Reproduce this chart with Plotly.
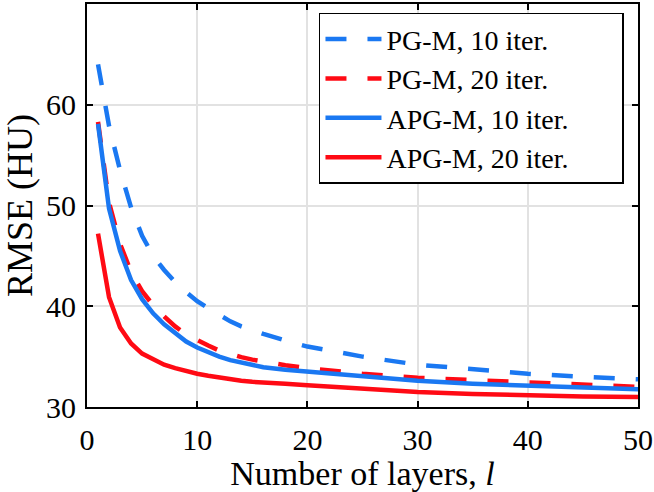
import plotly.graph_objects as go

layers = [1, 2, 3, 4, 5, 6, 7, 8, 9, 10, 11, 12, 13, 14, 15, 16, 18, 20, 22, 25, 30, 35, 40, 45, 50]

pgm_10 = [64.0, 57.9, 53.5, 49.8, 47.0, 45.0, 43.6, 42.4, 41.4, 40.5, 39.8, 39.1, 38.5, 38.0, 37.6, 37.25,
          36.6, 36.0, 35.6, 35.0, 34.2, 33.7, 33.3, 33.0, 32.75]
pgm_20 = [58.3, 50.3, 46.2, 43.4, 41.5, 40.1, 39.0, 38.0, 37.2, 36.6, 36.1, 35.6, 35.25, 34.95, 34.7, 34.5,
          34.15, 33.85, 33.6, 33.3, 32.9, 32.65, 32.4, 32.2, 32.0]
apgm_10 = [58.1, 49.7, 45.5, 42.6, 40.7, 39.3, 38.2, 37.3, 36.5, 35.9, 35.4, 35.0, 34.65, 34.4, 34.15, 33.95,
           33.7, 33.5, 33.3, 33.0, 32.6, 32.3, 32.1, 31.9, 31.75]
apgm_20 = [47.2, 40.9, 37.9, 36.3, 35.3, 34.7, 34.2, 33.85, 33.55, 33.3, 33.1, 32.9, 32.75, 32.6, 32.5, 32.4,
           32.3, 32.15, 32.0, 31.8, 31.5, 31.3, 31.15, 31.05, 31.0]

names = ["PG-M, 10 iter.", "PG-M, 20 iter.", "APG-M, 10 iter.", "APG-M, 20 iter."]
x_ticks = [0, 10, 20, 30, 40, 50]
y_ticks = [30, 40, 50, 60]

BLUE = "#1a78f2"
RED = "#ff0a14"
FONT = "Liberation Serif"
PAD = "\u00a0" * 7

fig = go.Figure()
series = [(pgm_10, BLUE, "21px,21px"), (pgm_20, RED, "21px,21px"),
          (apgm_10, BLUE, "solid"), (apgm_20, RED, "solid")]
for (vals, col, dash), nm in zip(series, names):
    fig.add_trace(go.Scatter(x=layers, y=vals, mode="lines", name=nm + PAD,
                             line=dict(color=col, width=4.5, dash=dash)))

axis_common = dict(showline=True, linecolor="black", linewidth=2, mirror="ticks",
                   ticks="inside", ticklen=6, tickwidth=2, tickcolor="black",
                   showgrid=True, gridcolor="#e2e2e2", gridwidth=1.5, zeroline=False,
                   automargin=False,
                   tickfont=dict(family=FONT, size=30, color="black"))

fig.update_xaxes(range=[0, 50], tickvals=x_ticks, ticktext=[str(v) for v in x_ticks],
                 ticklabelstandoff=5,
                 title=dict(text="Number of layers, <i>l</i>", font=dict(family=FONT, size=34, color="black"), standoff=8),
                 **axis_common)
fig.update_yaxes(range=[30, 70], tickvals=y_ticks, ticktext=[str(v) for v in y_ticks],
                 ticklabelstandoff=3,
                 title=dict(text="RMSE (HU)", font=dict(family=FONT, size=36, color="black"), standoff=34),
                 **axis_common)

fig.update_layout(
    width=654, height=492,
    margin=dict(l=87, r=16, t=4, b=85),
    plot_bgcolor="white", paper_bgcolor="white",
    legend=dict(x=0.421, y=0.978, xanchor="left", yanchor="top",
                bgcolor="white", bordercolor="black", borderwidth=1.5,
                font=dict(family=FONT, size=28, color="black"),
                itemwidth=56, tracegroupgap=0),
    showlegend=True,
)

fig.write_html("out.html", config={"displayModeBar": False},
               post_script="document.body.style.margin='0';")
